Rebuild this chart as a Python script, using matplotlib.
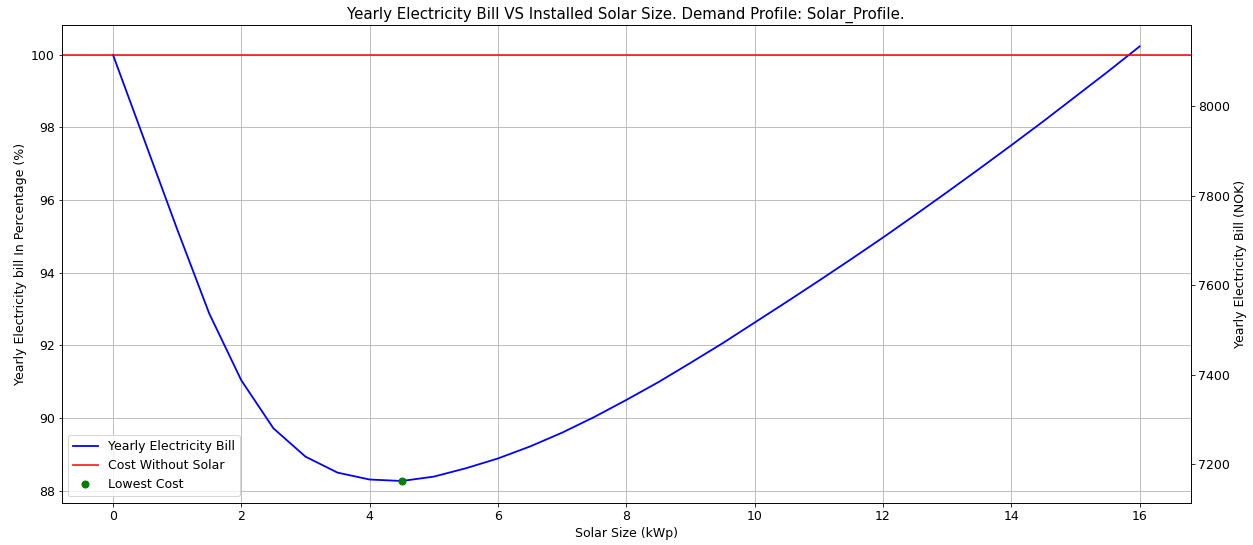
import numpy as np
import matplotlib
matplotlib.use("Agg")
from matplotlib import pyplot as plt

# solar size (kWp) and yearly bill in % of the no-solar cost
solar_size = [0, 0.5, 1, 1.5, 2, 2.5, 3, 3.5, 4, 4.5, 5, 5.5, 6, 6.5, 7, 7.5, 8,
              8.5, 9, 9.5, 10, 10.5, 11, 11.5, 12, 12.5, 13, 13.5, 14, 14.5,
              15, 15.5, 16]
bill_pct = [100.0, 97.6, 95.2, 92.88, 91.04, 89.72, 88.94, 88.5, 88.31, 88.27,
            88.39, 88.62, 88.89, 89.22, 89.6, 90.03, 90.5, 90.99, 91.52, 92.06,
            92.63, 93.2, 93.78, 94.37, 94.97, 95.59, 96.22, 96.86, 97.51,
            98.17, 98.85, 99.53, 100.23]
base_cost = 8115  # NOK, yearly bill without solar

best_size = 4.5
best_pct = 88.27

plt.rcParams['font.size'] = 12.5

fig = plt.figure(figsize=(1253 / 72, 545 / 72), dpi=72)
ax = fig.add_axes([0.0492, 0.0776, 0.9013, 0.8771])

ax.plot(solar_size, bill_pct, color="blue", lw=1.8, label="Yearly Electricity Bill")
ax.axhline(100, color="red", lw=1.8, alpha=0.85, label="Cost Without Solar")
ax.plot(best_size, best_pct, "o", color="green", ms=7, label="Lowest Cost")
ax.grid(True)
ax.set_xlabel("Solar Size (kWp)")
ax.set_ylabel("Yearly Electricity bill In Percentage (%)")
ax.set_title("Yearly Electricity Bill VS Installed Solar Size. Demand Profile: Solar_Profile.")
ax.legend(loc="lower left")

# right axis shows the same bill in NOK
ax2 = ax.twinx()
lo, hi = ax.get_ylim()
ax2.set_ylim(lo / 100 * base_cost, hi / 100 * base_cost)
ax2.set_ylabel("Yearly Electricity Bill (NOK)")

fig.savefig("out.png", dpi=72)
plt.close(fig)
